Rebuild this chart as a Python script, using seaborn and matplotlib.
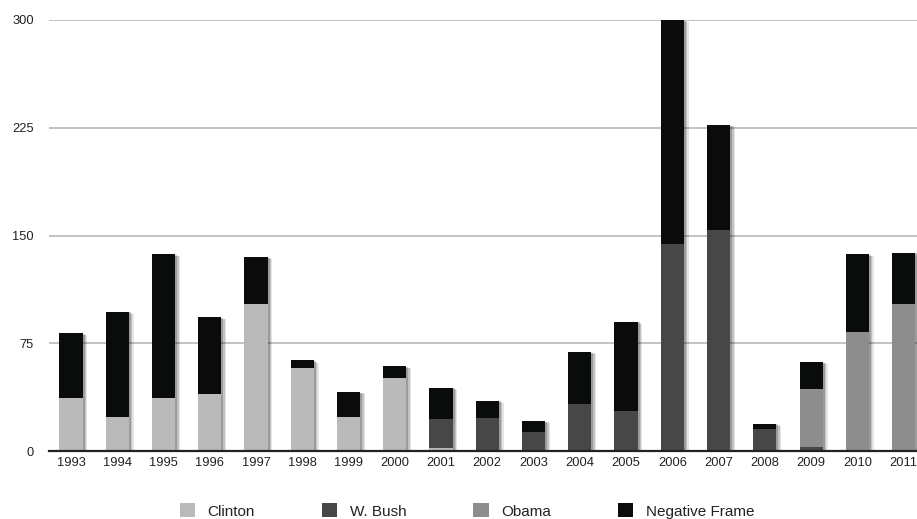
import matplotlib
matplotlib.use("Agg")
import matplotlib.pyplot as plt
import matplotlib.patheffects as pe
from matplotlib.patches import Patch
import numpy as np
import pandas as pd
import seaborn as sns

years = [str(y) for y in range(1993, 2012)]
clinton = [37, 24, 37, 40, 102, 58, 24, 51, 2, 0, 0, 0, 0, 0, 0, 0, 0, 0, 0]
bush = [0, 0, 0, 0, 0, 0, 0, 0, 20, 23, 13, 33, 28, 144, 154, 15, 3, 0, 0]
obama = [0, 0, 0, 0, 0, 0, 0, 0, 0, 0, 0, 0, 0, 0, 0, 0, 40, 83, 102]
negative = [45, 73, 100, 53, 33, 5, 17, 8, 22, 12, 8, 36, 62, 156, 73, 4, 19, 54, 36]

series_names = ["Clinton", "W. Bush", "Obama", "Negative Frame"]
colors = ["#bababa", "#474747", "#8d8d8d", "#0a0c0c"]

sns.set_theme(style="white")
plt.rcParams["font.family"] = ["Liberation Sans", "DejaVu Sans"]

df = pd.DataFrame({"year": years, "Clinton": clinton, "W. Bush": bush,
                   "Obama": obama, "Negative Frame": negative})
c1 = df["Clinton"]
c2 = c1 + df["W. Bush"]
c3 = c2 + df["Obama"]
c4 = c3 + df["Negative Frame"]
layers = [(c4, colors[3]), (c3, colors[2]), (c2, colors[1]), (c1, colors[0])]

fig = plt.figure(figsize=(9.17, 5.19), dpi=100)
ax = fig.add_axes([49 / 917, 1 - 451 / 519, 1 - 49 / 917, (451 - 20) / 519])

for i, (vals, col) in enumerate(layers):
    sns.barplot(x=df["year"], y=vals, order=years, color=col, saturation=1,
                width=0.5, ax=ax, zorder=3 + i, linewidth=0, edgecolor="none")

# soft drop shadow on outer bars
for p in ax.patches[:len(years)]:
    p.set_path_effects([
        pe.SimplePatchShadow(offset=(3.5, -1.5), shadow_rgbFace="#000000", alpha=0.10),
        pe.SimplePatchShadow(offset=(2.5, -1.0), shadow_rgbFace="#000000", alpha=0.15),
        pe.SimplePatchShadow(offset=(1.5, -0.5), shadow_rgbFace="#000000", alpha=0.2),
        pe.Normal()])

ax.set_ylim(0, 300)
ax.set_xlim(-0.476, 18.29)
ax.set_yticks([0, 75, 150, 225, 300])
ax.yaxis.grid(True, color="#b8b8b8", linewidth=1.2, zorder=0)
ax.set_axisbelow(True)
for s in ["top", "right", "left"]:
    ax.spines[s].set_visible(False)
ax.spines["bottom"].set_color("#222222")
ax.spines["bottom"].set_linewidth(1.6)
ax.spines["bottom"].set_zorder(20)
ax.tick_params(axis="y", length=0, pad=11, labelsize=9.3, labelcolor="#222222")
ax.tick_params(axis="x", length=0, pad=4, labelsize=9.3, labelcolor="#222222")
ax.set_xlabel("")
ax.set_ylabel("")

handles = [Patch(facecolor=c, edgecolor="none", label=n) for c, n in zip(colors, series_names)]
fig.legend(handles=handles, loc="center", bbox_to_anchor=(467 / 917, 1 - 511 / 519),
           ncol=4, frameon=False, fontsize=11, handlelength=1.0, handleheight=1.0,
           handletextpad=0.8, columnspacing=4.4, labelcolor="#222222")

fig.savefig("out.png", dpi=100)
